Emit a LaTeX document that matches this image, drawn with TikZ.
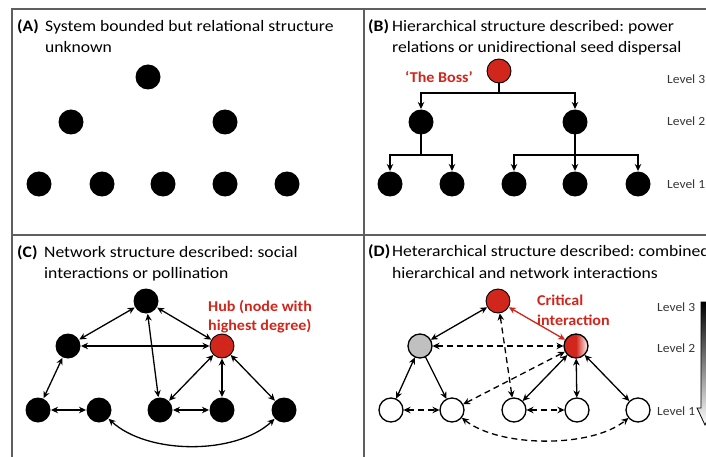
\documentclass[tikz,border=0pt]{standalone}
\usepackage{fontspec}
\setmainfont{Carlito}
\newfontfamily\titlefont[FakeStretch=1.1]{Carlito}
\newfontfamily\lvlfont[FakeStretch=1.08]{Carlito}
\newfontfamily\redfont[FakeStretch=1.07]{Carlito}
\usetikzlibrary{arrows.meta,calc}
\definecolor{myred}{RGB}{208,38,28}
\definecolor{framecol}{RGB}{95,95,95}
\definecolor{lvlcol}{RGB}{55,55,55}
\definecolor{graynode}{RGB}{192,192,192}
\frenchspacing
\tikzset{
  dot/.style={circle, fill=black, minimum size=25pt, inner sep=0pt, outer sep=0pt},
  reddot/.style={circle, fill=myred, draw=black, line width=0.9pt, minimum size=24pt, inner sep=0pt, outer sep=0pt},
  opendot/.style={circle, fill=white, draw=black, line width=1.3pt, minimum size=24pt, inner sep=0pt, outer sep=0pt},
  title/.style={anchor=base west, inner sep=0pt, font=\titlefont\fontsize{16}{19}\selectfont},
  redlab/.style={anchor=base west, inner sep=0pt, text=myred, font=\redfont\bfseries\fontsize{15}{17}\selectfont},
  lvl/.style={anchor=base west, inner sep=0pt, text=lvlcol, font=\lvlfont\fontsize{12.5}{14}\selectfont},
  tip/.tip={Stealth[length=7pt,width=6.5pt]},
  arr/.style={tip-tip, line width=1.3pt, shorten <=0.5pt, shorten >=0.5pt},
  onearr/.style={-tip, line width=1.3pt, shorten >=0.5pt},
  treeline/.style={line width=1.3pt},
  dsh/.style={dash pattern=on 6pt off 4pt},
  framel/.style={draw=framecol, line width=1.2pt}
}
\begin{document}
\begin{tikzpicture}[x=1pt,y=-1pt]
\useasboundingbox (0,0) rectangle (706,457);
\fill[white] (0,0) rectangle (706,457);
% frames
\draw[framel] (12,457) -- (12,9) -- (706,9);
\draw[framel] (364,9) -- (364,457);
\draw[framel] (12,235) -- (706,235);

% ---------- Panel A ----------
\node[title] (tAa) at (17,32) {\textbf{(A)}};
\node[title] (tA1) at (45,32) {System bounded but relational structure};
\node[title] (tA2) at (45,53) {unknown};
\node[dot] (a1) at (148,77) {};
\node[dot] (a2) at (71,122) {};
\node[dot] (a3) at (225,122) {};
\node[dot] (a4) at (39,184) {};
\node[dot] (a5) at (102,184) {};
\node[dot] (a6) at (163,184) {};
\node[dot] (a7) at (225,184) {};
\node[dot] (a8) at (287,184) {};

% ---------- Panel B ----------
\node[title] (tBb) at (368,32) {\textbf{(B)}};
\node[title] (tB1) at (392,32) {Hierarchical structure described: power};
\node[title] (tB2) at (392,53) {relations or unidirectional seed dispersal};
\node[reddot] (boss) at (499,71) {};
\node[redlab] (bosslab) at (405,83) {‘The Boss’};
\node[dot] (l2a) at (421,122) {};
\node[dot] (l2b) at (575,122) {};
\node[dot] (b1) at (390,184) {};
\node[dot] (b2) at (452,184) {};
\node[dot] (b3) at (514,184) {};
\node[dot] (b4) at (575,184) {};
\node[dot] (b5) at (638,184) {};
\coordinate (jb) at (499,93);
\coordinate (jl) at (421,155);
\coordinate (jr) at (575,155);
\draw[treeline] (boss) -- (jb);
\draw[onearr] (jb) -| (l2a);
\draw[onearr] (jb) -| (l2b);
\draw[treeline] (l2a) -- (jl);
\draw[onearr] (jl) -| (b1);
\draw[onearr] (jl) -| (b2);
\draw[treeline] (l2b) -- (jr);
\draw[onearr] (jr) -| (b3);
\draw[onearr] (jr) -- (b4);
\draw[onearr] (jr) -| (b5);
\node[lvl] (bL3) at (667,84) {Level 3};
\node[lvl] (bL2) at (667,126) {Level 2};
\node[lvl] (bL1) at (667,188) {Level 1};

% ---------- Panel C ----------
\node[title] (tCc) at (17,257) {\textbf{(C)}};
\node[title] (tC1) at (44,257) {Network structure described: social};
\node[title] (tC2) at (44,278) {interactions or pollination};
\node[dot] (ct) at (146,301) {};
\node[dot] (cl) at (68,346) {};
\node[reddot] (hub) at (222,346) {};
\node[dot] (c1) at (38,410) {};
\node[dot] (c2) at (99,410) {};
\node[dot] (c3) at (160,410) {};
\node[dot] (c4) at (222,410) {};
\node[dot] (c5) at (284,410) {};
\node[redlab] (hubl1) at (208,311) {Hub (node with};
\node[redlab] (hubl2) at (208,330) {highest degree)};
\draw[arr] (ct) -- (cl);
\draw[arr] (ct) -- (hub);
\draw[arr] (ct) -- (c3);
\draw[arr] (cl) -- (hub);
\draw[arr] (cl) -- (c1);
\draw[arr] (c1) -- (c2);
\draw[arr] (hub) -- (c3);
\draw[arr] (hub) -- (c4);
\draw[arr] (hub) -- (c5);
\draw[arr] (c3) -- (c4);
\draw[arr] (c2) .. controls (148,455) and (236,455) .. (c5);

% ---------- Panel D ----------
\node[title] (tDd) at (368,256) {\textbf{(D)}};
\node[title] (tD1) at (392,256) {Heterarchical structure described: combined};
\node[title] (tD2) at (392,278) {hierarchical and network interactions};
\node[reddot] (dt) at (498,301) {};
\node[circle, fill=graynode, draw=black, line width=1.3pt, minimum size=24pt, inner sep=0pt, outer sep=0pt] (dg) at (420,346) {};
\node[circle, left color=myred, right color=white, middle color=myred, draw=black, line width=1.3pt, minimum size=24pt, inner sep=0pt, outer sep=0pt] (dh) at (576,346) {};
\node[opendot] (d1) at (391,410) {};
\node[opendot] (d2) at (452,410) {};
\node[opendot] (d3) at (514,410) {};
\node[opendot] (d4) at (577,410) {};
\node[opendot] (d5) at (638,410) {};
\node[redlab] (crit1) at (537,305) {Critical};
\node[redlab] (crit2) at (537,325) {interaction};
\draw[arr, draw=myred, fill=myred] (dt) -- (dh);
\draw[arr] (dt) -- (dg);
\draw[arr, dsh] (dt) -- (d3);
\draw[arr, dsh] (dg) -- (dh);
\draw[arr] (dg) -- (d1);
\draw[onearr] (dg) -- (d2);
\draw[arr, dsh] (dh) -- (d2);
\draw[arr] (dh) -- (d3);
\draw[arr] (dh) -- (d4);
\draw[arr] (dh) -- (d5);
\draw[arr, dsh] (d1) -- (d2);
\draw[arr, dsh] (d3) -- (d4);
\draw[arr, dsh] (d2) .. controls (500,448) and (592,448) .. (d5);
\node[lvl] (dL3) at (657,311) {Level 3};
\node[lvl] (dL2) at (657,352) {Level 2};
\node[lvl] (dL1) at (657,415) {Level 1};
\shade[top color=black, bottom color=white, draw=black, line width=0.8pt]
  (701,302) -- (701,408) -- (697,408) -- (705,425) -- (713,408) -- (709,408) -- (709,302) -- cycle;
\end{tikzpicture}
\end{document}
